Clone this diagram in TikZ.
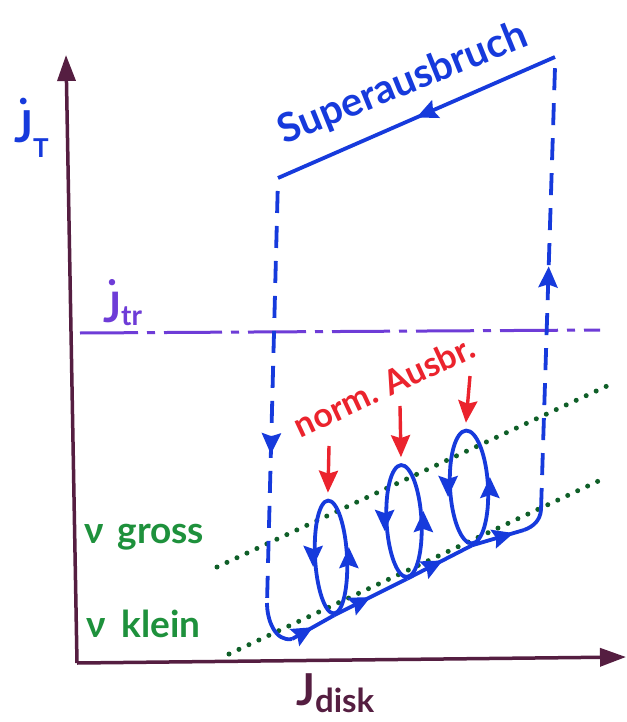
\documentclass[tikz,border=0pt]{standalone}
\usepackage{fontspec}
\setmainfont{Lato}
\usetikzlibrary{arrows.meta,decorations.markings,shapes.geometric}
\definecolor{axiscol}{RGB}{85,30,65}
\definecolor{bl}{RGB}{22,58,220}
\definecolor{vio}{RGB}{110,60,215}
\definecolor{rd}{RGB}{235,35,45}
\definecolor{gtext}{RGB}{30,145,60}
\definecolor{gdot}{RGB}{15,95,40}
\newcommand{\fsz}[1]{\fontsize{#1}{#1}\selectfont\bfseries}
\newcommand{\Jdot}[1]{\rlap{\hspace{4pt}\raisebox{#1}{.}}J}
\begin{document}
\begin{tikzpicture}[x=1pt,y=-1pt,
  axis/.style={draw=axiscol,line width=3.5pt,-{Triangle[length=26pt,width=18pt]}},
  bline/.style={bl,line width=3.8pt},
  bdash/.style={bline,dash pattern=on 22pt off 13pt},
  btip/.style={-{Stealth[length=21pt,width=19pt,inset=3pt]}},
  midarrow/.style={postaction={decorate},decoration={markings,mark=at position #1 with {\arrow{Stealth[length=21pt,width=19pt,inset=3pt]}}}},
  loopst/.style={ellipse,draw=bl,line width=3.8pt,inner sep=0pt},
  gdots/.style={gdot,line width=5pt,line cap=round,dash pattern=on 0pt off 11pt},
  redarr/.style={rd,line width=3.4pt,-{Stealth[length=22pt,width=19pt,inset=3pt]}},
  gtxt/.style={text=gtext,font=\fsz{37},inner sep=0pt}
]
\useasboundingbox (0,0) rectangle (626,722);
\fill[white] (0,0) rectangle (626,722);

% axes
\coordinate (O) at (77,663);
\coordinate (ytip) at (66,55);
\coordinate (xtip) at (626,657);
\draw[axis] (O) -- (ytip);
\draw[axis] (O) -- (xtip);

% axis labels
\node[text=bl,font=\fsz{44},anchor=base west,inner sep=0pt] (jT) at (14,143) {\Jdot{38pt}\raisebox{-15pt}{\fsz{26}T}};
\node[text=axiscol,font=\fsz{44},anchor=base west,inner sep=0pt] (Jd) at (296,705) {J\raisebox{-7pt}{\fsz{33}disk}};

% j_tr level
\coordinate (tra) at (80,333);
\coordinate (trb) at (600,330);
\draw[vio,line width=3pt,dash pattern=on 58pt off 9pt on 8pt off 9pt] (tra) -- (trb);
\node[text=vio,font=\fsz{42},anchor=base west,inner sep=0pt] (jtr) at (103,322) {\Jdot{37pt}\raisebox{-3pt}{\fsz{28}tr}};

% green dotted lines
\coordinate (ga) at (217,567);
\coordinate (gb) at (607,386);
\coordinate (gc) at (229,654);
\coordinate (gd) at (607,477);
\draw[gdots] (ga) -- (gb);
\draw[gdots] (gc) -- (gd);
\node[gtxt,anchor=base west] (ngross) at (84,543) {ν\hspace{14pt}gross};
\node[gtxt,anchor=base west] (nklein) at (86,637) {ν\hspace{16pt}klein};

% superoutburst cycle
\coordinate (Rt) at (555,57);
\coordinate (Lt) at (278,178);
\coordinate (Lb) at (267,603);
\coordinate (Rb) at (541,510);
\draw[bline,midarrow=0.5] (Rt) -- (Lt);
\node[text=bl,font=\fsz{40},rotate=22,inner sep=0pt] (sup) at (403,84) {Superausbruch};
\draw[bdash,dash phase=22pt,midarrow=0.65] (Lt) -- (Lb);
\draw[bdash,midarrow=0.55] (Rb) -- ([yshift=-10pt]Rt);

% normal outburst loops
\node[loopst,minimum width=32pt,minimum height=113pt,rotate=3] (L1) at (331,557) {};
\node[loopst,minimum width=35pt,minimum height=112pt,rotate=3] (L2) at (404,521) {};
\node[loopst,minimum width=38pt,minimum height=113pt,rotate=3] (L3) at (469,487) {};
\foreach \l in {L1,L2,L3}{
  \draw[bline,btip] ([yshift=9pt]\l.west) -- ([yshift=-9pt]\l.west);
  \draw[bline,btip] ([yshift=-9pt]\l.east) -- ([yshift=9pt]\l.east);
}

% staircase
\coordinate (c1) at (292,639);
\coordinate (c4) at (524,530);
\draw[bline] (Lb) to[out=-90,in=190] (c1);
\draw[bline,midarrow=0.5] (c1) -- (L1.south);
\draw[bline,midarrow=0.5] (L1.south) -- (L2.south);
\draw[bline,midarrow=0.55] (L2.south) -- (L3.south);
\draw[bline,midarrow=0.8] (L3.south) -- (c4);
\draw[bline] (c4) to[out=20,in=-95] (Rb);

% red arrows and label
\coordinate (r1) at (329,446);
\coordinate (r2) at (400,406);
\coordinate (r3) at (470,376);
\draw[redarr] (r1) -- ([yshift=6pt]L1.north);
\draw[redarr] (r2) -- ([yshift=6pt]L2.north);
\draw[redarr] (r3) -- ([yshift=6pt]L3.north);
\node[text=rd,font=\fsz{34},rotate=25,inner sep=0pt] (norm) at (384,386) {norm. Ausbr.};
\end{tikzpicture}
\end{document}
